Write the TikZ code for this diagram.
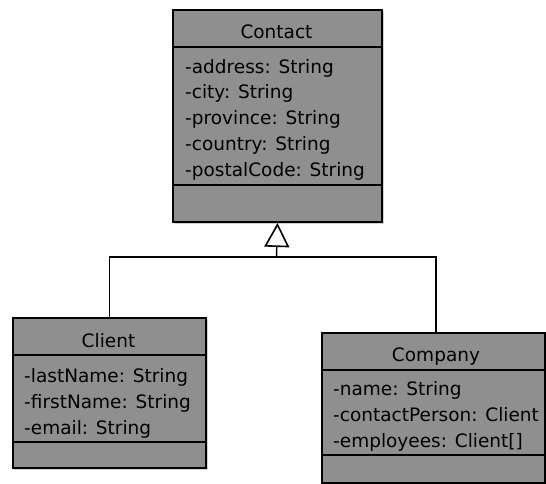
\documentclass[tikz,border=0pt]{standalone}
\usepackage{fontspec}
\setmainfont{DejaVu Sans}
\usetikzlibrary{arrows.meta}
\definecolor{boxfill}{gray}{0.56}
\definecolor{shadowc}{gray}{0.82}
\tikzset{
  classbox/.style={draw=black, line width=2pt, fill=boxfill, anchor=north west, inner sep=0pt},
  shadowbox/.style={fill=shadowc, draw=none},
  divider/.style={line width=1.8pt},
  attr/.style={anchor=base west, inner sep=0pt, font=\fontsize{18.5}{22}\selectfont},
  title/.style={anchor=base, inner sep=0pt, font=\fontsize{18.5}{22}\selectfont},
  conn/.style={line width=1.4pt},
}
\begin{document}
\begin{tikzpicture}[x=1pt, y=-1pt]
\useasboundingbox (0,0) rectangle (546,483);
% shadows
\fill[shadowbox] (174,11) rectangle (384,224);
\fill[shadowbox] (14,319) rectangle (208,470);
\fill[shadowbox] (323,334) rectangle (546,483);
% Contact
\node[classbox, minimum width=209pt, minimum height=212pt] (contact) at (172,9) {};
\draw[divider] (172,47) -- (381,47);
\draw[divider] (172,185) -- (381,185);
\node[title] (contactT) at (276.5,38.5) {Contact};
\node[attr] (c1) at (185,73) {-address: String};
\node[attr] (c2) at (185,98.5) {-city: String};
\node[attr] (c3) at (185,124.5) {-province: String};
\node[attr] (c4) at (185,150.5) {-country: String};
\node[attr] (c5) at (185,176.5) {-postalCode: String};
% Client
\node[classbox, minimum width=193pt, minimum height=150pt] (client) at (12,317) {};
\draw[divider] (12,355) -- (205,355);
\draw[divider] (12,442) -- (205,442);
\node[title] (clientT) at (108.5,347) {Client};
\node[attr] (l1) at (24,382) {-lastName: String};
\node[attr] (l2) at (24,408) {-firstName: String};
\node[attr] (l3) at (24,434) {-email: String};
% Company
\node[classbox, minimum width=223pt, minimum height=150pt] (company) at (321,332) {};
\draw[divider] (321,370) -- (544,370);
\draw[divider] (321,455) -- (544,455);
\node[title] (companyT) at (436,361.5) {Company};
\node[attr] (p1) at (333,395.5) {-name: String};
\node[attr] (p2) at (333,421.5) {-contactPerson: Client};
\node[attr] (p3) at (333,447.5) {-employees: Client[]};
% connectors
\coordinate (bus) at (276.5,257);
\coordinate (compTop) at (436,332);
\draw[conn] (client.north) |- (bus);
\draw[conn] (compTop) |- (bus);
\draw[conn, -{Triangle[open, length=24pt, width=25pt, line width=1.6pt]}] (bus) -- (contact.south);
\end{tikzpicture}
\end{document}
